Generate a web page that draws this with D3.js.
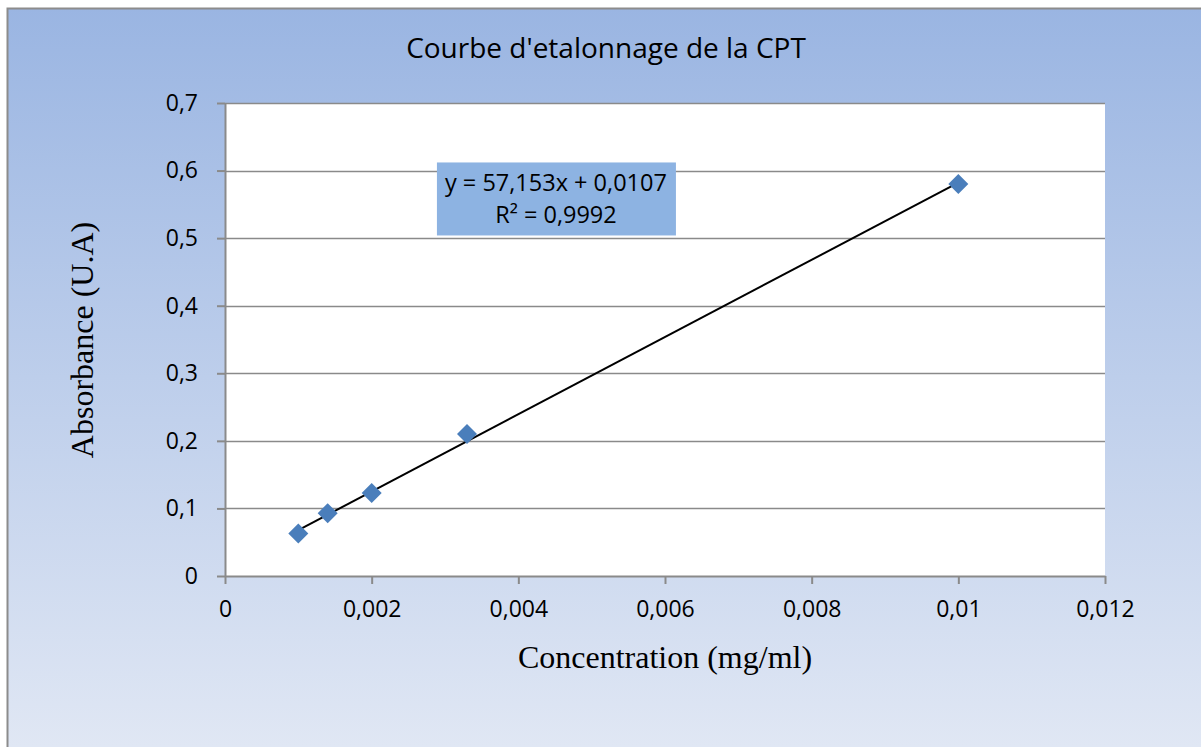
<!DOCTYPE html>
<html>
<head>
<meta charset="utf-8">
<script src="https://cdn.jsdelivr.net/npm/d3@7"></script>
<style>
  body { margin: 0; background: #fff; }
  svg { display: block; }
  .tick text { font-family: "Open Sans", sans-serif; font-size: 23px; fill: #000; }
</style>
</head>
<body>
<svg id="chart"></svg>
<script>
// data
const concentration = [0.001, 0.0014, 0.002, 0.0033, 0.01];
const absorbance = [0.063, 0.093, 0.123, 0.21, 0.58];
const trend = [57.153, 0.0107]; // slope, intercept
const xTicks = [0, 0.002, 0.004, 0.006, 0.008, 0.01, 0.012];
const xTickLabels = ["0", "0,002", "0,004", "0,006", "0,008", "0,01", "0,012"];
const yTicks = [0, 0.1, 0.2, 0.3, 0.4, 0.5, 0.6, 0.7];
const yTickLabels = ["0", "0,1", "0,2", "0,3", "0,4", "0,5", "0,6", "0,7"];
const title = "Courbe d'etalonnage de la CPT";
const xTitle = "Concentration (mg/ml)";
const yTitle = "Absorbance (U.A)";
const eqLines = ["y = 57,153x + 0,0107", "R² = 0,9992"];

const W = 1201, H = 747;
var svg = d3.select("#chart").attr("width", W).attr("height", H);

var margin = {top: 103, right: 96, bottom: 171, left: 225};
var width = W - margin.left - margin.right;
var height = H - margin.top - margin.bottom;

// background gradient
var defs = svg.append("defs");
var grad = defs.append("linearGradient")
    .attr("id", "bg")
    .attr("x1", 0).attr("y1", 0).attr("x2", 0).attr("y2", 1);
grad.append("stop").attr("offset", "0%").attr("stop-color", "#9ab5e2");
grad.append("stop").attr("offset", "100%").attr("stop-color", "#e0e7f4");

svg.append("rect")
    .attr("x", 7).attr("y", 8)
    .attr("width", W - 7).attr("height", H - 8)
    .attr("fill", "url(#bg)");

// chart border (only top and left visible)
svg.append("path")
    .attr("d", "M7.5," + H + "V8.5H" + W)
    .attr("fill", "none")
    .attr("stroke", "#8c8c8c")
    .attr("stroke-width", 2);

var x = d3.scaleLinear().domain([0, 0.012]).range([0, width]);
var y = d3.scaleLinear().domain([0, 0.7]).range([height, 0]);

var g = svg.append("g")
    .attr("transform", "translate(" + margin.left + "," + margin.top + ")");

g.append("rect")
    .attr("width", width)
    .attr("height", height)
    .attr("fill", "#fff");

// gridlines
g.append("g")
  .selectAll("line")
  .data(yTicks.filter(d => d > 0))
  .enter().append("line")
    .attr("x1", 0)
    .attr("x2", width)
    .attr("y1", d => Math.round(y(d)) + 0.5)
    .attr("y2", d => Math.round(y(d)) + 0.5)
    .attr("stroke", "#8a8a8a")
    .attr("stroke-width", 1.5);

var xAxis = d3.axisBottom(x)
    .tickValues(xTicks)
    .tickFormat((d, i) => xTickLabels[i])
    .tickSizeInner(8)
    .tickSizeOuter(0)
    .tickPadding(17);

var yAxis = d3.axisLeft(y)
    .tickValues(yTicks)
    .tickFormat((d, i) => yTickLabels[i])
    .tickSizeInner(8)
    .tickSizeOuter(0)
    .tickPadding(19);

var gx = g.append("g")
    .attr("transform", "translate(0," + height + ")")
    .call(xAxis);
var gy = g.append("g").call(yAxis);

[gx, gy].forEach(a => {
  a.selectAll(".domain, .tick line")
    .attr("stroke", "#8a8a8a")
    .attr("stroke-width", 2);
});

// trendline
var xs = d3.extent(concentration);
g.append("line")
    .attr("x1", x(xs[0]))
    .attr("y1", y(trend[0] * xs[0] + trend[1]))
    .attr("x2", x(xs[1]))
    .attr("y2", y(trend[0] * xs[1] + trend[1]))
    .attr("stroke", "#000")
    .attr("stroke-width", 2);

// points
g.append("g")
  .selectAll("path")
  .data(concentration)
  .enter().append("path")
    .attr("d", d3.symbol().type(d3.symbolDiamond2).size(255))
    .attr("transform", (d, i) => "translate(" + x(d) + "," + y(absorbance[i]) + ")")
    .attr("fill", "#4a7ebb");

// equation box
var eq = g.append("g")
    .attr("transform", "translate(" + x(0.00289) + "," + y(0.612) + ")");
eq.append("rect")
    .attr("width", 239)
    .attr("height", 73)
    .attr("fill", "#8db3e2");
eq.selectAll("text")
  .data(eqLines)
  .enter().append("text")
    .attr("x", 119)
    .attr("y", (d, i) => 29 + i * 32)
    .attr("text-anchor", "middle")
    .attr("font-family", "Open Sans, sans-serif")
    .attr("font-size", 23.5)
    .text(d => d);

// titles
svg.append("text")
    .attr("x", 606)
    .attr("y", 58)
    .attr("text-anchor", "middle")
    .attr("font-family", "Open Sans, sans-serif")
    .attr("font-size", 28)
    .text(title);

svg.append("text")
    .attr("x", margin.left + x(0.006))
    .attr("y", 668)
    .attr("text-anchor", "middle")
    .attr("font-family", "Liberation Serif, serif")
    .attr("font-size", 32)
    .text(xTitle);

svg.append("text")
    .attr("transform", "translate(93," + 340 + ") rotate(-90)")
    .attr("text-anchor", "middle")
    .attr("font-family", "Liberation Serif, serif")
    .attr("font-size", 32)
    .text(yTitle);
</script>
</body>
</html>
